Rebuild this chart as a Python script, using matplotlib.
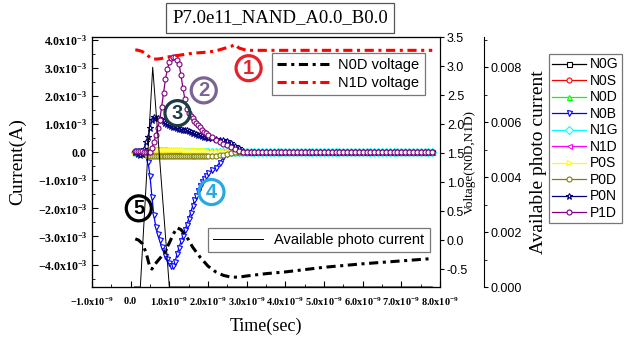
import numpy as np
import matplotlib
matplotlib.use('Agg')
import matplotlib.pyplot as plt
from matplotlib.ticker import MultipleLocator, FuncFormatter

plt.rcParams['font.family'] = ['Liberation Sans', 'DejaVu Sans']
plt.rcParams['mathtext.fontset'] = 'custom'
plt.rcParams['mathtext.rm'] = 'Liberation Serif'
plt.rcParams['mathtext.bf'] = 'Liberation Serif:bold'

# ---- data (time in ns, current in mA, voltage in V, photo current in A) ----
t_early = [0.10, 0.15, 0.20, 0.25, 0.30, 0.35, 0.40, 0.45, 0.50, 0.55,
           0.60, 0.65, 0.70, 0.75, 0.80, 0.85, 0.90, 0.95, 1.00, 1.05,
           1.10, 1.15, 1.20, 1.25, 1.30, 1.35, 1.40, 1.45, 1.50, 1.55,
           1.60, 1.65, 1.70, 1.75, 1.80, 1.85, 1.90, 1.95, 2.00,
           2.1, 2.2, 2.3, 2.4, 2.5, 2.6, 2.7, 2.8, 2.9, 3.0]
t_tail = [3.1, 3.2, 3.3, 3.4, 3.5, 3.6, 3.7, 3.8, 3.9, 4.0, 4.1, 4.2, 4.3, 4.4,
          4.5, 4.6, 4.7, 4.8, 4.9, 5.0, 5.1, 5.2, 5.3, 5.4, 5.5, 5.6, 5.7, 5.8,
          5.9, 6.0, 6.1, 6.2, 6.3, 6.4, 6.5, 6.6, 6.7, 6.8, 6.9, 7.0, 7.1, 7.2,
          7.3, 7.4, 7.5, 7.6, 7.7, 7.8]
# every terminal current sits on 0 A after 3 ns
tail_zero = [0.0] * len(t_tail)

n0g = [0.0] * 49
n0s = [0, 0, 0, 0, 0, 0, 0, -0.03, -0.05, -0.08,
       -0.08, -0.06, -0.04, -0.02, 0, 0, 0, 0, 0, 0,
       0, 0, 0, 0, 0, 0, 0, 0, 0, 0,
       0, 0, 0, 0, 0, 0, 0, 0, 0,
       0, 0, 0, 0, 0, 0, 0, 0, 0, 0]
n0d = [0.0] * 49
n0b = [0, 0, 0.02, 0.05, 0.05, 0.02, -0.05, -0.35, -0.85, -1.6,
       -2.25, -2.65, -2.9, -3.13, -3.36, -3.52, -3.7, -3.82, -3.93, -4.05,
       -4.05, -3.9, -3.62, -3.4, -3.18, -2.98, -2.78, -2.58, -2.38, -2.15,
       -1.93, -1.72, -1.55, -1.37, -1.2, -1.06, -0.95, -0.85, -0.75,
       -0.65, -0.55, -0.38, -0.18, -0.07, -0.02, 0, 0, 0, 0]
n1g = [0.0] * 49
n1d = [0, 0, 0, 0, 0.02, 0.05, 0.08, 0.1, 0.12, 0.12,
       0.12, 0.12, 0.1, 0.1, 0.1, 0.1, 0.08, 0.08, 0.08, 0.06,
       0.06, 0.05, 0.05, 0.04, 0.04, 0.03, 0.02, 0.02, 0.01, 0,
       0, 0, 0, 0, 0, 0, 0, 0, 0,
       0, 0, 0, 0, 0, 0, 0, 0, 0, 0]
p0s = [0, 0, 0, 0, 0.02, 0.04, 0.06, 0.06, 0.06, 0.06,
       0.06, 0.06, 0.06, 0.06, 0.06, 0.06, 0.06, 0.06, 0.06, 0.06,
       0.06, 0.06, 0.06, 0.06, 0.06, 0.06, 0.05, 0.05, 0.05, 0.05,
       0.04, 0.04, 0.04, 0.04, 0.03, 0.03, 0.03, 0.03, 0.02,
       0.02, 0.01, 0, 0, 0, 0, 0, 0, 0, 0]
p0d = [0, 0, 0, 0, -0.03, -0.06, -0.1, -0.12, -0.12, -0.12,
       -0.12, -0.12, -0.12, -0.12, -0.12, -0.12, -0.12, -0.12, -0.12, -0.12,
       -0.12, -0.12, -0.12, -0.12, -0.12, -0.12, -0.12, -0.12, -0.12, -0.12,
       -0.12, -0.12, -0.12, -0.12, -0.12, -0.12, -0.12, -0.12, -0.12,
       -0.12, -0.12, -0.11, -0.09, -0.06, -0.03, 0, 0, 0, 0]
p0n = [0, 0, -0.05, -0.1, -0.05, 0.12, 0.35, 0.55, 0.85, 1.15,
       1.25, 1.22, 1.2, 1.17, 1.14, 1.1, 1.05, 1.01, 0.97, 0.94,
       0.91, 0.88, 0.85, 0.83, 0.81, 0.8, 0.79, 0.78, 0.75, 0.72,
       0.69, 0.68, 0.65, 0.62, 0.6, 0.57, 0.55, 0.53, 0.52,
       0.5, 0.47, 0.45, 0.42, 0.38, 0.32, 0.22, 0.14, 0.05, 0]
p1d = [0.05, 0.05, 0.05, 0.05, 0.03, 0, 0, 0, 0.02, 0.15,
       0.35, 0.6, 0.85, 1.14, 1.6, 2.1, 2.6, 2.95, 3.22, 3.35,
       3.38, 3.38, 3.28, 3.15, 2.75, 2.3, 1.9, 1.55, 1.38, 1.28,
       1.2, 1.12, 1.03, 0.95, 0.88, 0.8, 0.73, 0.67, 0.62,
       0.53, 0.45, 0.36, 0.3, 0.25, 0.2, 0.12, 0.05, 0.01, 0]

series_names = ['N0G', 'N0S', 'N0D', 'N0B', 'N1G', 'N1D', 'P0S', 'P0D', 'P0N', 'P1D']
series_vals = [n0g, n0s, n0d, n0b, n1g, n1d, p0s, p0d, p0n, p1d]
series_colors = ['#000000', '#ff0000', '#00ff00', '#0000ff', '#00ffff',
                 '#ff00ff', '#ffff00', '#808000', '#000080', '#800080']
series_markers = ['s', 'o', '^', 'v', 'D', '<', '>', 'o', '*', 'o']

v_t = [0.12, 0.2, 0.3, 0.4, 0.5, 0.55, 0.6, 0.7, 0.8, 0.9, 1.0, 1.1, 1.2, 1.3,
       1.4, 1.5, 1.6, 1.8, 2.0, 2.2, 2.4, 2.6, 2.7, 2.8, 3.0, 3.5, 4.0, 5.0,
       6.0, 7.0, 7.8]
n0d_volt = [0.02, 0.0, -0.06, -0.22, -0.48, -0.5, -0.44, -0.36, -0.28, -0.18,
            -0.05, 0.1, 0.21, 0.18, 0.1, 0.0, -0.12, -0.3, -0.45, -0.55, -0.61,
            -0.64, -0.64, -0.64, -0.62, -0.58, -0.55, -0.47, -0.41, -0.36, -0.32]
n1d_volt = [3.28, 3.27, 3.25, 3.2, 3.15, 3.13, 3.12, 3.12, 3.13, 3.15, 3.16,
            3.17, 3.18, 3.19, 3.2, 3.21, 3.22, 3.23, 3.24, 3.26, 3.3, 3.34,
            3.37, 3.31, 3.27, 3.27, 3.27, 3.27, 3.27, 3.27, 3.27]

photo_t = [0.1, 0.25, 0.57, 1.0, 7.8]
photo_i = [0.0, 0.0, 0.0080, 0.0, 0.0]

t_all = np.array(t_early + t_tail) * 1e-9


def sci_label(v, pos, exp):
    if abs(v) < 1e-15:
        return r'$\mathbf{0.0}$'
    m = v / 10 ** exp
    return r'$\mathbf{%.1fx10^{%d}}$' % (m, exp)


fig = plt.figure(figsize=(6.3, 3.4), dpi=100)
ax = fig.add_axes([92 / 630, 1 - 287 / 340, 348 / 630, 250 / 340])

for name, vals, c, m in zip(series_names, series_vals, series_colors, series_markers):
    y = np.array(vals + tail_zero) * 1e-3
    ms = 5 if m == '*' else 3.6
    ax.plot(t_all, y, color=c, lw=0.9, marker=m, ms=ms, mfc='white',
            mec=c, mew=0.8, label=name)

ax.set_xlim(-1e-9, 8e-9)
ax.set_ylim(-4.8e-3, 4.1e-3)
ax.xaxis.set_major_locator(MultipleLocator(1e-9))
ax.xaxis.set_minor_locator(MultipleLocator(0.5e-9))
ax.yaxis.set_major_locator(MultipleLocator(1e-3))
ax.yaxis.set_minor_locator(MultipleLocator(0.5e-3))
ax.xaxis.set_major_formatter(FuncFormatter(lambda v, p: sci_label(v, p, -9)))
ax.yaxis.set_major_formatter(FuncFormatter(lambda v, p: sci_label(v, p, -3)))
ax.tick_params(axis='both', which='both', direction='in')
ax.tick_params(axis='y', labelsize=8.5)
ax.tick_params(axis='x', labelsize=7.4, pad=6)
ax.tick_params(which='major', length=4)
ax.tick_params(which='minor', length=2)
ax.set_xlabel('Time(sec)', family='Liberation Serif', fontsize=13, labelpad=7)
ax.set_ylabel('Current(A)', family='Liberation Serif', fontsize=14, labelpad=8)

# voltage axis
ax2 = ax.twinx()
ax2.plot(np.array(v_t) * 1e-9, n0d_volt, color='black', lw=2.2,
         ls=(0, (3, 1.5, 1, 1.5)), label='N0D voltage')
ax2.plot(np.array(v_t) * 1e-9, n1d_volt, color='red', lw=2.2,
         ls=(0, (3, 1.5, 1, 1.5)), label='N1D voltage')
ax2.set_ylim(-0.81, 3.5)
ax2.yaxis.set_major_locator(MultipleLocator(0.5))
ax2.yaxis.set_major_formatter(FuncFormatter(lambda v, p: '%.1f' % v))
ax2.tick_params(axis='y', direction='out', labelsize=9, length=3, pad=2)
ax2.set_ylabel('Voltage(N0D,N1D)', family='Liberation Serif', fontsize=9.5,
               labelpad=-3)
leg1 = ax2.legend(loc='upper left', bbox_to_anchor=(180 / 348, 1 - 16 / 250),
                  fontsize=10.5, frameon=True, fancybox=False, edgecolor='#555555',
                  handlelength=3.6, handletextpad=0.6, borderpad=0.35,
                  labelspacing=0.25, borderaxespad=0)
leg1.get_frame().set_linewidth(0.9)

# available photo current axis
ax3 = ax.twinx()
ax3.spines['right'].set_position(('axes', 1.125))
ax3.plot(np.array(photo_t) * 1e-9, photo_i, color='black', lw=0.7,
         label='Available photo current')
ax3.set_ylim(0, 0.0091)
ax3.yaxis.set_major_locator(MultipleLocator(0.002))
ax3.yaxis.set_minor_locator(MultipleLocator(0.001))
ax3.yaxis.set_major_formatter(FuncFormatter(lambda v, p: '%.3f' % v))
ax3.tick_params(axis='y', which='both', direction='out', labelsize=9, pad=2)
ax3.tick_params(axis='y', which='major', length=3)
ax3.tick_params(axis='y', which='minor', length=2)
ax3.set_ylabel('Available photo current', family='Liberation Serif',
               fontsize=14, labelpad=6)
leg2 = ax3.legend(loc='upper left', bbox_to_anchor=(116 / 348, 1 - 191 / 250),
                  fontsize=10.5, frameon=True, fancybox=False, edgecolor='#555555',
                  handlelength=3.4, borderpad=0.35, borderaxespad=0)
leg2.get_frame().set_linewidth(0.9)

# legend for terminal currents, outside on the right
h, l = ax.get_legend_handles_labels()
leg3 = fig.legend(h, l, loc='upper left', bbox_to_anchor=(549 / 630, 1 - 54 / 340),
                  fontsize=10, frameon=True, fancybox=False, edgecolor='#555555',
                  handlelength=2.4, borderpad=0.25, labelspacing=0.18,
                  handletextpad=0.3, borderaxespad=0)
leg3.get_frame().set_linewidth(0.9)

# circled region numbers
marks = [('1', 3.05, 2.99, '#e8202a'), ('2', 1.89, 2.2, '#7a6592'),
         ('3', 1.21, 1.39, '#1d3a48'), ('4', 2.09, -1.42, '#27a9e1'),
         ('5', 0.21, -2.0, '#000000')]
for txt, tx, ty, col in marks:
    ax.text(tx * 1e-9, ty * 1e-3, txt, color=col, fontsize=14.5, fontweight='bold',
            ha='center', va='center', zorder=10,
            bbox=dict(boxstyle='circle,pad=0.15', fc='none', ec=col, lw=2.3))

fig.text(280 / 630, 1 - 18 / 340, 'P7.0e11_NAND_A0.0_B0.0', family='Liberation Serif',
         fontsize=13.5, ha='center', va='center',
         bbox=dict(boxstyle='square,pad=0.35', fc='white', ec='#555555', lw=0.9))

fig.savefig('out.png', dpi=100)
